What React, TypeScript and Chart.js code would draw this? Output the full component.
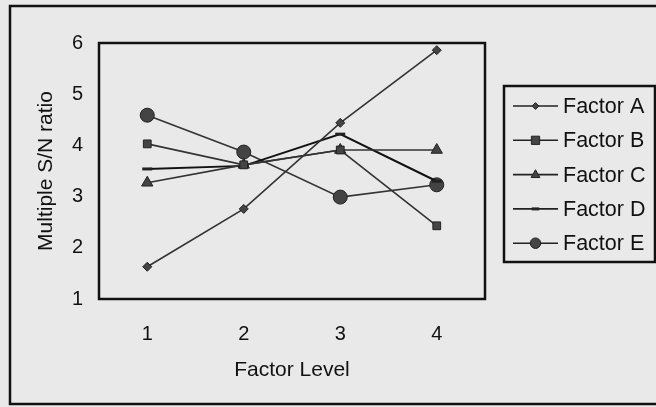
import React, { useEffect, useRef } from "react";
import { Chart, registerables } from "chart.js";

Chart.register(...registerables);

const levels = ["1", "2", "3", "4"];
const seriesNames = ["Factor A", "Factor B", "Factor C", "Factor D", "Factor E"];
const factorA = [1.63, 2.76, 4.44, 5.86];
const factorB = [4.03, 3.62, 3.91, 2.43];
const factorC = [3.27, 3.62, 3.91, 3.91];
const factorD = [3.54, 3.6, 4.22, 3.3];
const factorE = [4.59, 3.87, 2.99, 3.23];
const yTicks = [1, 2, 3, 4, 5, 6];

const FONT = "'Liberation Sans', Arial, sans-serif";
const BG = "#e9e9e9";
const INK = "#222";

const styles = [
  { ps: "rectRot", r: 4.5 },
  { ps: "rect", r: 5.5 },
  { ps: "triangle", r: 6.5 },
  { ps: "line", r: 5 },
  { ps: "circle", r: 7 },
];

function drawMarker(ctx: CanvasRenderingContext2D, style: string, x: number, y: number, r: number) {
  ctx.save();
  ctx.fillStyle = "#444";
  ctx.strokeStyle = INK;
  ctx.lineWidth = 1;
  ctx.beginPath();
  if (style === "circle") {
    ctx.arc(x, y, r, 0, Math.PI * 2);
    ctx.fill();
    ctx.stroke();
  } else if (style === "rect") {
    ctx.rect(x - r, y - r, 2 * r, 2 * r);
    ctx.fill();
    ctx.stroke();
  } else if (style === "rectRot") {
    ctx.moveTo(x, y - r);
    ctx.lineTo(x + r, y);
    ctx.lineTo(x, y + r);
    ctx.lineTo(x - r, y);
    ctx.closePath();
    ctx.fill();
    ctx.stroke();
  } else if (style === "triangle") {
    ctx.moveTo(x, y - r);
    ctx.lineTo(x + r * 0.9, y + r * 0.6);
    ctx.lineTo(x - r * 0.9, y + r * 0.6);
    ctx.closePath();
    ctx.fill();
    ctx.stroke();
  } else if (style === "line") {
    ctx.lineWidth = 3;
    ctx.moveTo(x - r, y);
    ctx.lineTo(x + r, y);
    ctx.stroke();
  }
  ctx.restore();
}

const framePlugin = {
  id: "frame",
  beforeDraw(chart: any) {
    const { ctx, width, height } = chart;
    ctx.save();
    ctx.fillStyle = BG;
    ctx.fillRect(0, 0, width, height);
    ctx.strokeStyle = "#111";
    ctx.lineWidth = 2.5;
    ctx.strokeRect(10, 6, width + 20, height - 9);
    ctx.restore();
  },
  afterDraw(chart: any) {
    const { ctx, chartArea } = chart;
    ctx.save();
    ctx.strokeStyle = "#111";
    ctx.lineWidth = 2.5;
    ctx.strokeRect(chartArea.left, chartArea.top, chartArea.right - chartArea.left, chartArea.bottom - chartArea.top);
    // legend
    const bx = 504, by = 86, bw = 151, bh = 176;
    ctx.strokeRect(bx, by, bw, bh);
    ctx.font = `21.5px ${FONT}`;
    ctx.textBaseline = "middle";
    ctx.textAlign = "left";
    chart.data.datasets.forEach((ds: any, i: number) => {
      const y = 106 + i * 34.3;
      ctx.strokeStyle = INK;
      ctx.lineWidth = 1.6;
      ctx.beginPath();
      ctx.moveTo(513, y);
      ctx.lineTo(558, y);
      ctx.stroke();
      drawMarker(ctx, styles[i].ps, 535.5, y, styles[i].r * 0.75);
      ctx.fillStyle = "#111";
      ctx.fillText(ds.label, 563, y + 1);
    });
    ctx.restore();
  },
};

export default function App() {
  const ref = useRef<HTMLCanvasElement>(null);
  useEffect(() => {
    if (!ref.current) return;
    const all = [factorA, factorB, factorC, factorD, factorE];
    const chart = new Chart(ref.current, {
      type: "line",
      data: {
        labels: levels,
        datasets: all.map((d, i) => ({
          label: seriesNames[i],
          data: d,
          borderColor: i === 3 ? "#111" : "#333",
          borderWidth: i === 3 ? 2 : 1.6,
          pointStyle: styles[i].ps as any,
          pointRadius: styles[i].r,
          pointBackgroundColor: "#444",
          pointBorderColor: INK,
          pointBorderWidth: i === 3 ? 3 : 1,
          tension: 0,
          fill: false,
        })),
      },
      options: {
        responsive: false,
        animation: false,
        events: [],
        layout: { padding: { left: 0, top: 43, right: 171, bottom: 0 } },
        plugins: { legend: { display: false }, tooltip: { enabled: false }, title: { display: false } },
        scales: {
          x: {
            type: "category",
            offset: true,
            grid: { display: false, drawTicks: false },
            border: { display: false },
            ticks: { color: "#111", font: { family: FONT, size: 20 }, padding: 23 },
            title: { display: true, text: "Factor Level", color: "#111", font: { family: FONT, size: 21 }, padding: { top: 0, bottom: 24 } },
            afterFit: (s: any) => { s.height = 108; },
          },
          y: {
            min: 1,
            max: 6,
            afterBuildTicks: (s: any) => { s.ticks = yTicks.map((v) => ({ value: v })); },
            grid: { display: false, drawTicks: false },
            border: { display: false },
            ticks: { color: "#111", font: { family: FONT, size: 20 }, padding: 16 },
            title: { display: true, text: "Multiple S/N ratio", color: "#111", font: { family: FONT, size: 21 }, padding: { top: 34, bottom: 0 } },
            afterFit: (s: any) => { s.width = 99; },
          },
        },
      },
      plugins: [framePlugin],
    });
    return () => chart.destroy();
  }, []);
  return (
    <div style={{ position: "fixed", left: 0, top: 0, width: 656, height: 407, background: BG }}>
      <canvas ref={ref} width={656} height={407} style={{ display: "block" }} />
    </div>
  );
}
